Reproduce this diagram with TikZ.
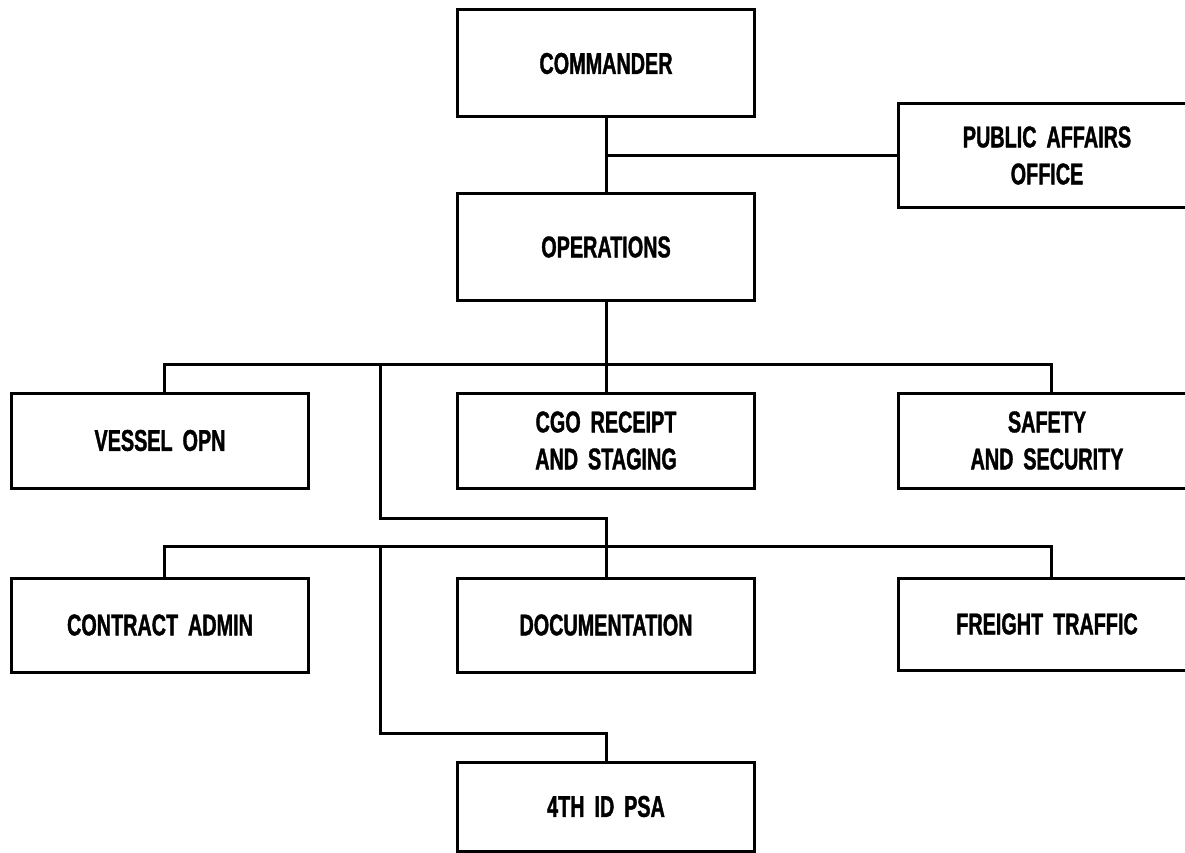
\documentclass[tikz,border=0pt]{standalone}
\usepackage{fontspec}
\newfontfamily\orgfont{Liberation Sans}[FakeStretch=0.66, FakeBold=1.2, WordSpace=1.8]
\begin{document}
\begin{tikzpicture}[x=1pt,y=-1pt,
  unit/.style={draw=black, line width=3pt, rectangle, minimum width=297pt, inner sep=0pt,
    align=center, font=\orgfont\bfseries\fontsize{30}{37}\selectfont},
  link/.style={draw=black, line width=3pt, line cap=rect}]
\useasboundingbox (0,0) rectangle (1185,853);
\clip (0,0) rectangle (1185,853);
\fill[white] (0,0) rectangle (1185,853);
% boxes
\node[unit, minimum height=107pt] (cmd) at (606,63.5) {COMMANDER};
\node[unit, minimum height=104pt] (pao) at (1047,155.5) {PUBLIC AFFAIRS\\OFFICE};
\node[unit, minimum height=106pt] (ops) at (606,247) {OPERATIONS};
\node[unit, minimum height=95pt] (vessel) at (160,440.5) {VESSEL OPN};
\node[unit, minimum height=95pt] (cgo) at (606,440.5) {CGO RECEIPT\\AND STAGING};
\node[unit, minimum height=95pt] (safety) at (1047,440.5) {SAFETY\\AND SECURITY};
\node[unit, minimum height=94pt] (contract) at (160,625) {CONTRACT ADMIN};
\node[unit, minimum height=94pt] (doc) at (606,625) {DOCUMENTATION};
\node[unit, minimum height=92pt] (freight) at (1047,624) {FREIGHT TRAFFIC};
\node[unit, minimum height=89pt] (psa) at (606,806.5) {4TH ID PSA};
% coordinates of the line junctions
\coordinate (pajct) at (606,155.5);
\coordinate (busA) at (606,364);
\coordinate (busAl) at (164,364);
\coordinate (busAr) at (1051,364);
\coordinate (jA) at (380,364);
\coordinate (jogA) at (606,518);
\coordinate (busB) at (606,546);
\coordinate (busBl) at (164,546);
\coordinate (busBr) at (1051,546);
\coordinate (jB) at (380,546);
\coordinate (jogB) at (606,733);
% connectors
\draw[link] (cmd.south) -- (ops.north);
\draw[link] (pajct) -- (pao.west);
\draw[link] (ops.south) -- (cgo.north);
\draw[link] (busAl |- vessel.north) -- (busAl) -- (busAr) -- (busAr |- safety.north);
\draw[link] (jA) |- (jogA) -- (busB);
\draw[link] (busB) -- (doc.north);
\draw[link] (busBl |- contract.north) -- (busBl) -- (busBr) -- (busBr |- freight.north);
\draw[link] (jB) |- (jogB) -- (psa.north);
\end{tikzpicture}
\end{document}
